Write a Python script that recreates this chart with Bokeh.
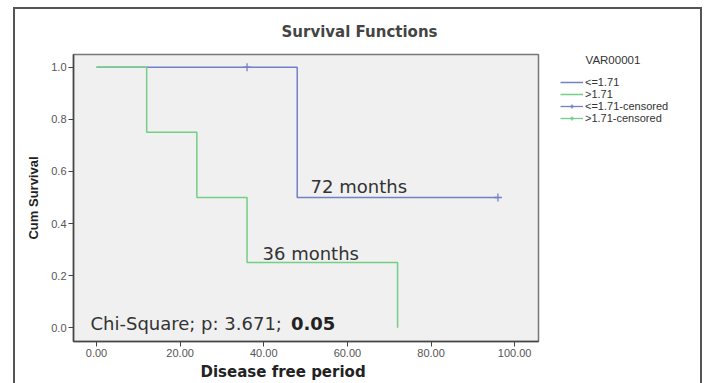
from bokeh.plotting import figure
from bokeh.layouts import row
from bokeh.models import (Legend, LegendItem, NumeralTickFormatter, FixedTicker,
                          Range1d, ColumnDataSource, Title, Label)
from bokeh.embed import file_html
from bokeh.resources import INLINE

# ---- data ----
months_low = [0, 48, 96]
surv_low = [1.0, 0.5, 0.5]
months_high = [0, 12, 24, 36, 72]
surv_high = [1.0, 0.75, 0.5, 0.25, 0.0]
cens_low_x = [36, 96]
cens_low_y = [1.0, 0.5]
x_ticks = [0, 20, 40, 60, 80, 100]
y_ticks = [0.0, 0.2, 0.4, 0.6, 0.8, 1.0]
series_names = ["<=1.71", ">1.71", "<=1.71-censored", ">1.71-censored"]

BLUE = "#7480c6"
GREEN = "#72cf84"

src_low = ColumnDataSource(dict(x=months_low, y=surv_low))
src_high = ColumnDataSource(dict(x=months_high, y=surv_high))
src_cens = ColumnDataSource(dict(x=cens_low_x, y=cens_low_y))

# ---------------- main chart ----------------
p = figure(width=530, height=374,
           x_range=Range1d(-5.5, 105.7), y_range=Range1d(-0.053, 1.049),
           output_backend="svg", toolbar_location=None,
           min_border_left=58, min_border_right=7,
           min_border_top=42, min_border_bottom=42,
           background_fill_color="#f0f0f0", border_fill_color="white",
           outline_line_color="#777777", outline_line_width=1.5)

p.title = Title(text="Survival Functions", align="left", offset=208, standoff=24,
                vertical_align="top",
                text_font="DejaVu Sans", text_font_style="bold",
                text_font_size="15px", text_color="#444444")

p.xgrid.visible = False
p.ygrid.visible = False

for ax in (p.xaxis[0], p.yaxis[0]):
    ax.axis_line_color = "#444444"
    ax.axis_line_width = 1.5
    ax.major_tick_line_color = "#444444"
    ax.major_tick_out = 5
    ax.major_tick_in = 0
    ax.minor_tick_line_color = None
    ax.major_label_text_font = "Liberation Sans"
    ax.major_label_text_font_size = "11px"
    ax.major_label_text_color = "#555555"
    ax.major_label_standoff = 2

p.xaxis.ticker = FixedTicker(ticks=x_ticks)
p.yaxis.ticker = FixedTicker(ticks=y_ticks)
p.xaxis.formatter = NumeralTickFormatter(format="0.00")
p.yaxis.formatter = NumeralTickFormatter(format="0.0")

p.yaxis.axis_label = "Cum Survival"
p.yaxis.axis_label_text_font = "Liberation Sans"
p.yaxis.axis_label_text_font_style = "bold"
p.yaxis.axis_label_text_font_size = "13px"
p.yaxis.axis_label_text_color = "#222222"
p.yaxis.axis_label_standoff = 7

p.add_layout(Title(text="Disease free period", align="left", offset=127,
                   text_font="DejaVu Sans", text_font_style="bold",
                   text_font_size="15px", text_color="#222222", standoff=2),
             "below")

p.step("x", "y", source=src_low, mode="after", line_color=BLUE, line_width=1.5)
p.step("x", "y", source=src_high, mode="after", line_color=GREEN, line_width=1.5)
p.scatter("x", "y", source=src_cens, marker="cross", size=8,
          line_color=BLUE, line_width=1.3)

def lab(x, y, text, size, style="normal", color="#333333"):
    p.add_layout(Label(x=x, y=y, text=text, text_font="DejaVu Sans",
                       text_font_size=size, text_font_style=style,
                       text_align="left", text_baseline="middle",
                       text_color=color))

lab(51.2, 0.544, "72 months", "18px")
lab(39.7, 0.285, "36 months", "18px")
lab(-1.44, 0.018, "Chi-Square; p: 3.671;", "18px")
lab(46.5, 0.018, "0.05", "18px", style="bold", color="#222222")

# ---------------- legend panel ----------------
q = figure(width=155, height=374, x_range=Range1d(1000, 1001),
           y_range=Range1d(1000, 1001), x_axis_type=None, y_axis_type=None,
           output_backend="svg", toolbar_location=None,
           min_border_left=15, min_border_top=45, min_border_right=0,
           min_border_bottom=0, outline_line_color=None,
           background_fill_color="white", border_fill_color="white")
q.grid.visible = False

# same series, kept outside q's visible ranges: only their legend icons show
g_low = q.step("x", "y", source=src_low, mode="after", line_color=BLUE, line_width=1.5)
g_high = q.step("x", "y", source=src_high, mode="after", line_color=GREEN, line_width=1.5)
g_cl_l = q.line("x", "y", source=src_cens, line_color=BLUE, line_width=1.3)
g_cl_m = q.scatter("x", "y", source=src_cens, marker="cross", line_color=BLUE, line_width=1.3)
g_ch_l = q.line("x", "y", source=src_high, line_color=GREEN, line_width=1.3)
g_ch_m = q.scatter("x", "y", source=src_high, marker="cross", line_color=GREEN, line_width=1.3)

legend = Legend(items=[
    LegendItem(label=series_names[0], renderers=[g_low]),
    LegendItem(label=series_names[1], renderers=[g_high]),
    LegendItem(label=series_names[2], renderers=[g_cl_l, g_cl_m]),
    LegendItem(label=series_names[3], renderers=[g_ch_l, g_ch_m]),
], location="top_left", padding=0, margin=0, spacing=0,
    title="\u00a0" * 8 + "VAR00001", title_text_font="Liberation Sans",
    title_text_font_size="11.5px", title_text_font_style="normal",
    title_text_color="#333333", title_standoff=10,
    label_height=10, glyph_height=10, glyph_width=23, label_standoff=2,
    label_text_font="Liberation Sans", label_text_font_size="11px",
    label_text_line_height=0.75,
    label_text_color="#333333", label_text_baseline="middle",
    background_fill_alpha=0, border_line_alpha=0)
q.add_layout(legend)

layout = row(p, q, spacing=0)
layout.margin = (7, 0, 0, 13)
layout.styles = {"border-top": "2px solid #555555",
                 "border-left": "2px solid #555555",
                 "border-right": "2px solid #555555"}

open("out.html", "w").write(file_html(layout, INLINE))
